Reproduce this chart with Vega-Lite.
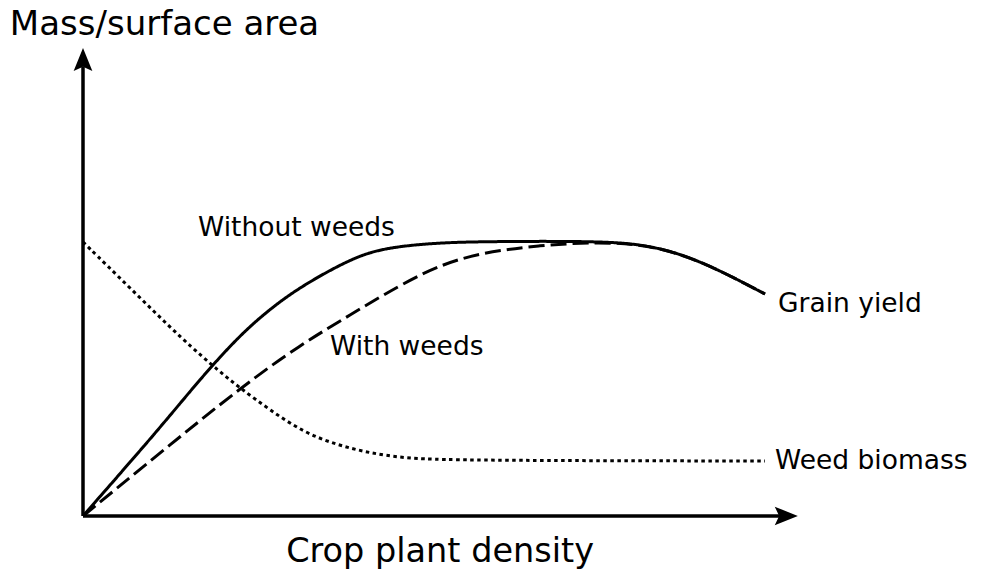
{
  "$schema": "https://vega.github.io/schema/vega-lite/v6.json",
  "width": 717,
  "height": 468,
  "autosize": {"type": "none"},
  "padding": {"left": 83, "top": 48, "right": 187, "bottom": 55},
  "background": "white",
  "config": {"view": {"stroke": null}},
  "datasets": {
    "curves": [
      {"series": "Without weeds", "x": 0, "y": 0},
      {"series": "Without weeds", "x": 10.74, "y": 18.8},
      {"series": "Without weeds", "x": 16.32, "y": 29.27},
      {"series": "Without weeds", "x": 21.9, "y": 38.68},
      {"series": "Without weeds", "x": 26.08, "y": 44.23},
      {"series": "Without weeds", "x": 30.27, "y": 48.93},
      {"series": "Without weeds", "x": 37.24, "y": 54.91},
      {"series": "Without weeds", "x": 41.84, "y": 57.26},
      {"series": "Without weeds", "x": 48.81, "y": 58.33},
      {"series": "Without weeds", "x": 55.37, "y": 58.65},
      {"series": "Without weeds", "x": 72.11, "y": 58.76},
      {"series": "Without weeds", "x": 79.08, "y": 57.91},
      {"series": "Without weeds", "x": 86.05, "y": 54.7},
      {"series": "Without weeds", "x": 95.12, "y": 47.44},
      {"series": "With weeds", "x": 0, "y": 0},
      {"series": "With weeds", "x": 10.74, "y": 13.46},
      {"series": "With weeds", "x": 21.9, "y": 27.35},
      {"series": "With weeds", "x": 30.27, "y": 36.54},
      {"series": "With weeds", "x": 37.24, "y": 42.95},
      {"series": "With weeds", "x": 44.21, "y": 49.36},
      {"series": "With weeds", "x": 49.79, "y": 53.63},
      {"series": "With weeds", "x": 55.37, "y": 56.2},
      {"series": "With weeds", "x": 63.74, "y": 57.91},
      {"series": "With weeds", "x": 72.11, "y": 58.55},
      {"series": "With weeds", "x": 79.08, "y": 57.91},
      {"series": "With weeds", "x": 86.05, "y": 54.7},
      {"series": "With weeds", "x": 95.12, "y": 47.44},
      {"series": "Weed biomass", "x": 0, "y": 58.55},
      {"series": "Weed biomass", "x": 6.56, "y": 48.72},
      {"series": "Weed biomass", "x": 13.95, "y": 37.61},
      {"series": "Weed biomass", "x": 19.11, "y": 30.77},
      {"series": "Weed biomass", "x": 21.9, "y": 27.35},
      {"series": "Weed biomass", "x": 26.08, "y": 22.65},
      {"series": "Weed biomass", "x": 30.68, "y": 17.95},
      {"series": "Weed biomass", "x": 35.43, "y": 15.17},
      {"series": "Weed biomass", "x": 40.03, "y": 13.46},
      {"series": "Weed biomass", "x": 44.63, "y": 12.39},
      {"series": "Weed biomass", "x": 51.6, "y": 11.86},
      {"series": "Weed biomass", "x": 95.12, "y": 11.75}
    ],
    "axes": [
      {"axis": "x", "x": 0, "y": 0, "x2": 97.5, "y2": 0},
      {"axis": "y", "x": 0, "y": 0, "x2": 0, "y2": 96}
    ],
    "tips": [
      {"axis": "x", "x": 99.7, "y": 0},
      {"axis": "y", "x": 0, "y": 100}
    ],
    "labels": [
      {"text": "Mass/surface area", "kind": "big", "x": -10.2, "y": 104.9},
      {"text": "Crop plant density", "kind": "bigc", "x": 49.8, "y": -7.7},
      {"text": "Without weeds", "kind": "small", "x": 16.04, "y": 61.5},
      {"text": "With weeds", "kind": "small", "x": 34.45, "y": 36.1},
      {"text": "Grain yield", "kind": "small", "x": 96.93, "y": 45.3},
      {"text": "Weed biomass", "kind": "small", "x": 96.51, "y": 11.75}
    ]
  },
  "layer": [
    {
      "data": {"name": "axes"},
      "mark": {"type": "rule", "strokeWidth": 3.5, "color": "black", "clip": false},
      "encoding": {
        "x": {"field": "x", "type": "quantitative", "scale": {"domain": [0, 100], "nice": false, "zero": false}, "axis": null},
        "y": {"field": "y", "type": "quantitative", "scale": {"domain": [0, 100], "nice": false, "zero": false}, "axis": null},
        "x2": {"field": "x2"},
        "y2": {"field": "y2"}
      }
    },
    {
      "data": {"name": "tips"},
      "transform": [{"filter": "datum.axis === 'x'"}],
      "mark": {"type": "point", "filled": true, "color": "black", "opacity": 1, "size": 484, "shape": "M0,0 L-2.1,-0.85 L-1.7,0 L-2.1,0.85 Z", "clip": false},
      "encoding": {
        "x": {"field": "x", "type": "quantitative", "scale": {"domain": [0, 100], "nice": false, "zero": false}, "axis": null},
        "y": {"field": "y", "type": "quantitative", "scale": {"domain": [0, 100], "nice": false, "zero": false}, "axis": null}
      }
    },
    {
      "data": {"name": "tips"},
      "transform": [{"filter": "datum.axis === 'y'"}],
      "mark": {"type": "point", "filled": true, "color": "black", "opacity": 1, "size": 484, "shape": "M0,0 L-0.85,2.1 L0,1.7 L0.85,2.1 Z", "clip": false},
      "encoding": {
        "x": {"field": "x", "type": "quantitative", "scale": {"domain": [0, 100], "nice": false, "zero": false}, "axis": null},
        "y": {"field": "y", "type": "quantitative", "scale": {"domain": [0, 100], "nice": false, "zero": false}, "axis": null}
      }
    },
    {
      "data": {"name": "curves"},
      "mark": {"type": "line", "color": "black", "interpolate": "basis", "clip": false},
      "encoding": {
        "x": {"field": "x", "type": "quantitative", "scale": {"domain": [0, 100], "nice": false, "zero": false}, "axis": null},
        "y": {"field": "y", "type": "quantitative", "scale": {"domain": [0, 100], "nice": false, "zero": false}, "axis": null},
        "strokeDash": {"field": "series", "type": "nominal", "scale": {"domain": ["Without weeds", "With weeds", "Weed biomass"], "range": [[1, 0], [16, 6], [3.5, 3.5]]}, "legend": null},
        "strokeWidth": {"field": "series", "type": "nominal", "scale": {"domain": ["Without weeds", "With weeds", "Weed biomass"], "range": [3, 3, 3.5]}, "legend": null},
        "detail": {"field": "series"}
      }
    },
    {
      "data": {"name": "labels"},
      "transform": [{"filter": "datum.kind === 'big'"}],
      "mark": {"type": "text", "font": "DejaVu Sans", "fontSize": 34, "align": "left", "baseline": "middle", "color": "black", "clip": false},
      "encoding": {
        "x": {"field": "x", "type": "quantitative", "scale": {"domain": [0, 100], "nice": false, "zero": false}, "axis": null},
        "y": {"field": "y", "type": "quantitative", "scale": {"domain": [0, 100], "nice": false, "zero": false}, "axis": null},
        "text": {"field": "text"}
      }
    },
    {
      "data": {"name": "labels"},
      "transform": [{"filter": "datum.kind === 'bigc'"}],
      "mark": {"type": "text", "font": "DejaVu Sans", "fontSize": 33.5, "align": "center", "baseline": "middle", "color": "black", "clip": false},
      "encoding": {
        "x": {"field": "x", "type": "quantitative", "scale": {"domain": [0, 100], "nice": false, "zero": false}, "axis": null},
        "y": {"field": "y", "type": "quantitative", "scale": {"domain": [0, 100], "nice": false, "zero": false}, "axis": null},
        "text": {"field": "text"}
      }
    },
    {
      "data": {"name": "labels"},
      "transform": [{"filter": "datum.kind === 'small'"}],
      "mark": {"type": "text", "font": "DejaVu Sans", "fontSize": 26.5, "align": "left", "baseline": "middle", "color": "black", "clip": false},
      "encoding": {
        "x": {"field": "x", "type": "quantitative", "scale": {"domain": [0, 100], "nice": false, "zero": false}, "axis": null},
        "y": {"field": "y", "type": "quantitative", "scale": {"domain": [0, 100], "nice": false, "zero": false}, "axis": null},
        "text": {"field": "text"}
      }
    }
  ]
}
